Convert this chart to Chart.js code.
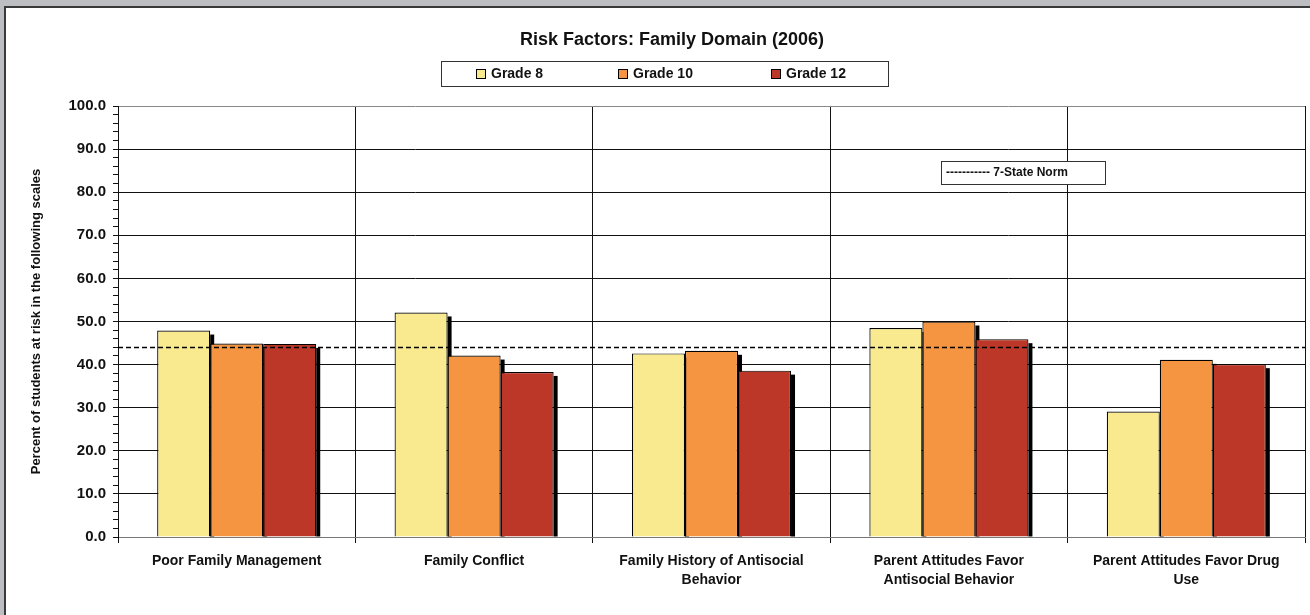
<!DOCTYPE html>
<html lang="en">
<head>
<meta charset="UTF-8">
<title>Risk Factors: Family Domain (2006)</title>
<script src="https://cdn.jsdelivr.net/npm/chart.js"></script>
<style>
  * { margin: 0; padding: 0; box-sizing: content-box; }
  body { background: #bdbec2; width: 1310px; height: 615px; overflow: hidden; position: relative; }
  .panel { position: absolute; left: 4px; top: 6px; border-left: 2px solid #3a3a3a; border-top: 2px solid #3a3a3a; background: #fff; width: 1304px; height: 607px; }
  canvas { display: block; }
</style>
</head>
<body>
<div class="panel"><canvas id="chart" width="1304" height="607"></canvas></div>
<script>
// data
const categories = [
  'Poor Family Management',
  'Family Conflict',
  ['Family History of Antisocial', 'Behavior'],
  ['Parent Attitudes Favor', 'Antisocial Behavior'],
  ['Parent Attitudes Favor Drug', 'Use']
];
const grade8 = [47.9, 52.1, 42.6, 48.5, 29.1];
const grade10 = [44.9, 42.1, 43.2, 50.0, 41.1];
const grade12 = [44.8, 38.3, 38.6, 45.9, 40.1];
const normValue = 44.1;
const seriesNames = ['Grade 8', 'Grade 10', 'Grade 12'];
const seriesColors = ['#f9ea90', '#f59441', '#bc3727'];

const FONT = '"Liberation Sans", Arial, sans-serif';

// black drop shadow on the right of every bar
const barShadow = {
  id: 'barShadow',
  beforeDatasetsDraw(chart) {
    const ctx = chart.ctx;
    ctx.save();
    ctx.fillStyle = '#000';
    chart.data.datasets.forEach((ds, i) => {
      chart.getDatasetMeta(i).data.forEach(bar => {
        const right = bar.x + bar.width / 2;
        ctx.fillRect(right, bar.y + 4, 4, bar.base - bar.y - 4);
      });
    });
    ctx.restore();
  }
};

// dashed 7-state norm line across the plot
const normLine = {
  id: 'normLine',
  afterDatasetsDraw(chart) {
    const {ctx, chartArea} = chart;
    const y = Math.round(chart.scales.y.getPixelForValue(normValue)) + 0.5;
    ctx.save();
    ctx.strokeStyle = '#000';
    ctx.lineWidth = 1.5;
    ctx.setLineDash([5, 3]);
    ctx.beginPath();
    ctx.moveTo(chartArea.left, y);
    ctx.lineTo(chartArea.right, y);
    ctx.stroke();
    ctx.restore();
  }
};

// title, boxed legend and norm key
const decorations = {
  id: 'decorations',
  afterDraw(chart) {
    const ctx = chart.ctx;
    ctx.save();
    ctx.fillStyle = '#111';
    ctx.textBaseline = 'middle';
    ctx.textAlign = 'center';
    ctx.font = 'bold 18px ' + FONT;
    ctx.fillText('Risk Factors: Family Domain (2006)', 666, 32);

    // legend box
    ctx.strokeStyle = '#333';
    ctx.lineWidth = 1;
    ctx.strokeRect(435.5, 53.5, 447, 25);
    const itemX = [470, 612, 765];
    ctx.textAlign = 'left';
    ctx.font = 'bold 14px ' + FONT;
    chart.data.datasets.forEach((ds, i) => {
      ctx.fillStyle = ds.backgroundColor;
      ctx.fillRect(itemX[i], 61, 10, 10);
      ctx.strokeStyle = '#000';
      ctx.strokeRect(itemX[i] + 0.5, 61.5, 9, 9);
      ctx.fillStyle = '#111';
      ctx.fillText(ds.label, itemX[i] + 15, 66.5);
    });

    // norm key
    ctx.fillStyle = '#fff';
    ctx.fillRect(935, 153, 164, 23);
    ctx.strokeStyle = '#333';
    ctx.strokeRect(935.5, 153.5, 164, 23);
    ctx.fillStyle = '#111';
    ctx.font = 'bold 12px ' + FONT;
    ctx.fillText('----------- 7-State Norm', 940, 165);
    ctx.restore();
  }
};

new Chart(document.getElementById('chart'), {
  type: 'bar',
  data: {
    labels: categories,
    datasets: [
      {label: seriesNames[0], data: grade8, backgroundColor: seriesColors[0]},
      {label: seriesNames[1], data: grade10, backgroundColor: seriesColors[1]},
      {label: seriesNames[2], data: grade12, backgroundColor: seriesColors[2]}
    ]
  },
  options: {
    responsive: false,
    animation: false,
    devicePixelRatio: 1,
    layout: {padding: {top: 98, right: 5, left: 0, bottom: 0}},
    datasets: {
      bar: {barPercentage: 1, categoryPercentage: 0.67, borderColor: '#000', borderWidth: 1.2}
    },
    plugins: {
      legend: {display: false},
      title: {display: false},
      tooltip: {enabled: false}
    },
    scales: {
      x: {
        afterFit(scale) { scale.height = 78; },
        border: {color: '#777', width: 1},
        grid: {
          offset: true,
          color: c => c.index === 0 ? 'transparent' : (c.index === categories.length ? '#888' : '#111'),
          tickColor: c => c.index === categories.length ? '#888' : '#111',
          tickLength: 6
        },
        ticks: {
          autoSkip: false,
          maxRotation: 0,
          padding: 9,
          color: '#111',
          font: {family: FONT, size: 14, weight: 'bold', lineHeight: 1.35}
        }
      },
      y: {
        min: 0,
        max: 100,
        afterFit(scale) { scale.width = 112; },
        border: {color: '#111', width: 1},
        grid: {
          color: c => {
            const v = c.tick.value;
            if (v === 100 || v === 0) return '#888';
            return v % 10 === 0 ? '#111' : 'transparent';
          },
          tickColor: '#111',
          tickLength: 5
        },
        ticks: {
          stepSize: 2,
          autoSkip: false,
          padding: 7,
          color: '#111',
          font: {family: FONT, size: 15, weight: 'bold'},
          callback: v => v % 10 === 0 ? v.toFixed(1) : ''
        },
        title: {
          display: true,
          text: 'Percent of students at risk in the following scales',
          color: '#111',
          padding: {top: 23, bottom: 0},
          font: {family: FONT, size: 13, weight: 'bold'}
        }
      }
    }
  },
  plugins: [barShadow, normLine, decorations]
});
</script>
</body>
</html>
